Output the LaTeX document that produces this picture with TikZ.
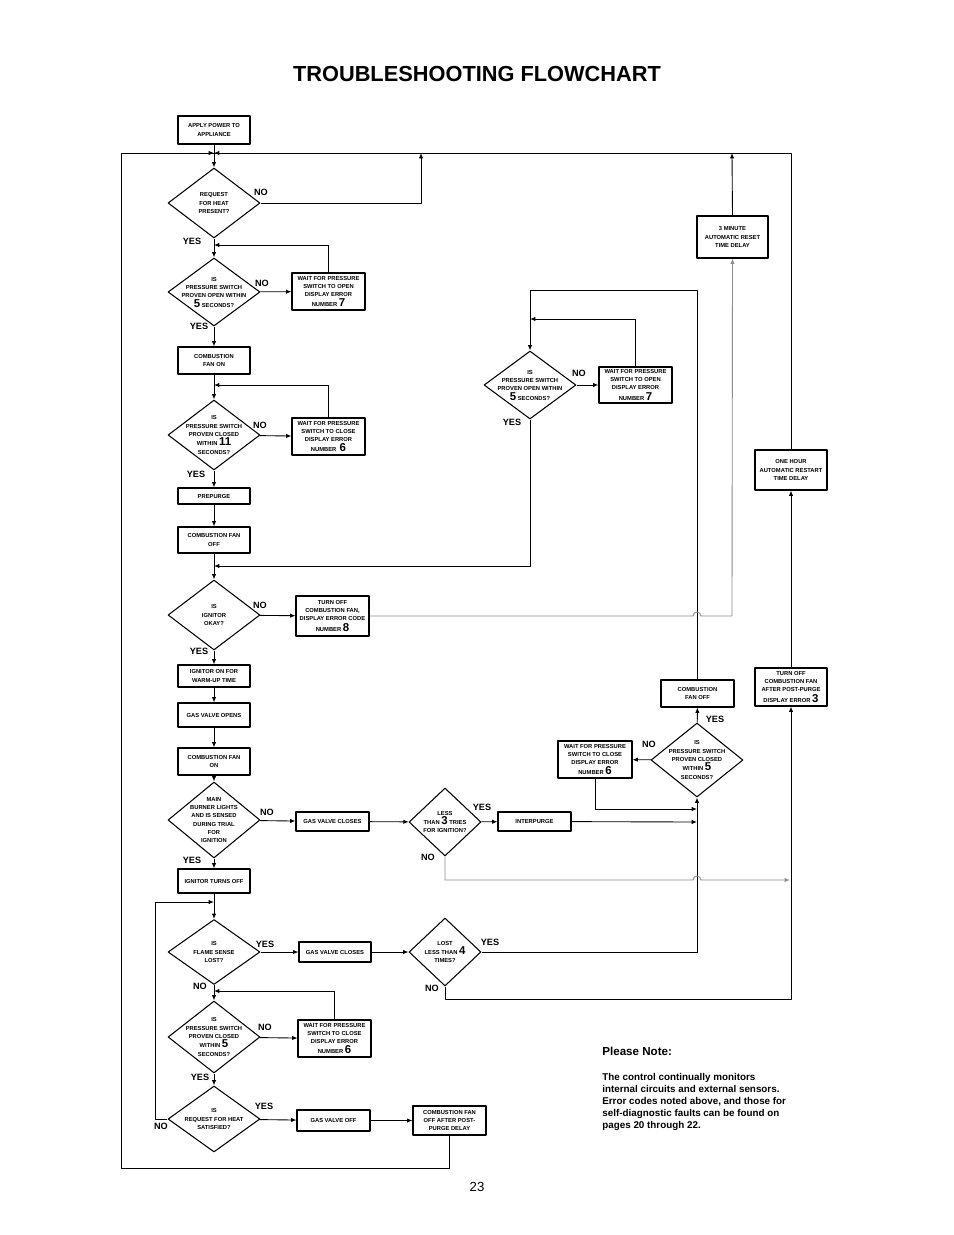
\documentclass[tikz,border=0pt]{standalone}
\usepackage{fontspec}
\setmainfont{Liberation Sans}
\usetikzlibrary{shapes.geometric,arrows.meta}
\newcommand{\bignum}[1]{\smash{\fontsize{6.5}{4.6}\selectfont #1}}
\tikzset{
  box/.style={draw,line width=0.6pt,align=center,inner sep=0pt,font=\fontsize{3.3}{4.6}\selectfont\bfseries},
  dia/.style={draw,diamond,shape aspect=1.3,line width=0.6pt,align=center,inner sep=-3pt,minimum width=1.84cm,minimum height=1.4cm,font=\fontsize{3.3}{4.6}\selectfont\bfseries},
  lbl/.style={font=\fontsize{5.2}{6}\selectfont\bfseries,inner sep=0pt},
  flow/.style={line width=0.5pt,->},
  grayflow/.style={line width=0.5pt,->,draw=black!45},
}
\begin{document}
\begin{tikzpicture}[x=0.02cm,y=-0.02cm,line join=round,>={Latex[length=3pt,width=2.4pt]}]
\useasboundingbox (0,0) rectangle (954,1235);
\node[font=\fontsize{12.4}{14}\selectfont\bfseries] (title) at (477,74) {TROUBLESHOOTING FLOWCHART};
\node[font=\fontsize{7.5}{8}\selectfont] (page) at (477,1187) {23};

% main column
\node[box,minimum width=1.44cm,minimum height=0.56cm] (apply) at (214,130) {APPLY POWER TO\\APPLIANCE};
\node[dia] (dHeat) at (214,203) {REQUEST\\FOR HEAT\\PRESENT?};
\node[dia,minimum height=1.36cm] (dOpen) at (214,292) {IS\\PRESSURE SWITCH\\PROVEN OPEN WITHIN\\[1pt]\bignum{5} SECONDS?};
\node[box,minimum width=1.46cm,minimum height=0.74cm] (wOpen) at (328.5,291.5) {WAIT FOR PRESSURE\\SWITCH TO OPEN\\DISPLAY ERROR\\[1.2pt]NUMBER \bignum{7}};
\node[box,minimum width=1.44cm,minimum height=0.54cm] (fanOn) at (214,360.5) {COMBUSTION\\FAN ON};
\node[dia] (dClosed) at (214,435) {IS\\PRESSURE SWITCH\\PROVEN CLOSED\\[1pt]WITHIN \bignum{11}\\SECONDS?};
\node[box,minimum width=1.46cm,minimum height=0.74cm] (wClosed) at (328.5,436.5) {WAIT FOR PRESSURE\\SWITCH TO CLOSE\\DISPLAY ERROR\\[1.2pt]NUMBER\ \ \bignum{6}};
\node[box,minimum width=1.44cm,minimum height=0.32cm] (prepurge) at (214,496) {PREPURGE};
\node[box,minimum width=1.44cm,minimum height=0.52cm] (fanOff) at (214,540) {COMBUSTION FAN\\OFF};
\node[dia] (dIgn) at (214,615) {IS\\IGNITOR\\OKAY?};
\node[box,minimum width=1.46cm,minimum height=0.8cm] (tOff) at (332.5,616) {TURN OFF\\COMBUSTION FAN,\\DISPLAY ERROR CODE\\[1.2pt]NUMBER \bignum{8}};
\node[box,minimum width=1.44cm,minimum height=0.44cm] (ignOn) at (214,676) {IGNITOR ON FOR\\WARM-UP TIME};
\node[box,minimum width=1.44cm,minimum height=0.48cm] (gvOpen) at (214,715) {GAS VALVE OPENS};
\node[box,minimum width=1.44cm,minimum height=0.54cm] (fanOn2) at (214,761.5) {COMBUSTION FAN\\ON};
\node[dia,minimum height=1.52cm] (dBurn) at (214,820) {MAIN\\BURNER LIGHTS\\AND IS SENSED\\DURING TRIAL\\FOR\\IGNITION};
\node[box,minimum width=1.46cm,minimum height=0.38cm] (gvClose) at (332.5,821.5) {GAS VALVE CLOSES};
\node[dia,minimum width=1.44cm,minimum height=1.36cm] (dTries) at (445,822) {LESS\\[1pt]THAN \bignum{3} TRIES\\FOR IGNITION?};
\node[box,minimum width=1.46cm,minimum height=0.38cm] (inter) at (534.5,821.5) {INTERPURGE};
\node[box,minimum width=1.44cm,minimum height=0.48cm] (ignOff) at (214,881) {IGNITOR TURNS OFF};
\node[dia,minimum height=1.3cm] (dFlame) at (214,952) {IS\\FLAME SENSE\\LOST?};
\node[box,minimum width=1.44cm,minimum height=0.4cm] (gvClose2) at (335,952) {GAS VALVE CLOSES};
\node[dia,minimum width=1.44cm,minimum height=1.36cm] (dLost) at (445,952) {LOST\\[1pt]LESS THAN \bignum{4}\\TIMES?};
\node[dia,minimum height=1.44cm] (dClosed2) at (214,1037) {IS\\PRESSURE SWITCH\\PROVEN CLOSED\\[1pt]WITHIN \bignum{5}\\SECONDS?};
\node[box,minimum width=1.46cm,minimum height=0.74cm] (wClosed2) at (334.5,1038.5) {WAIT FOR PRESSURE\\SWITCH TO CLOSE\\DISPLAY ERROR\\[1.2pt]NUMBER \bignum{6}};
\node[dia,minimum height=1.32cm] (dSat) at (214,1119) {IS\\REQUEST FOR HEAT\\SATISFIED?};
\node[box,minimum width=1.46cm,minimum height=0.42cm] (gvOff) at (333.5,1120.5) {GAS VALVE OFF};
\node[box,minimum width=1.46cm,minimum height=0.58cm] (post) at (449.5,1120.5) {COMBUSTION FAN\\OFF AFTER POST-\\PURGE DELAY};

% right side
\node[dia,minimum height=1.36cm] (dOpen2) at (530,385) {IS\\PRESSURE SWITCH\\PROVEN OPEN WITHIN\\[1pt]\bignum{5} SECONDS?};
\node[box,minimum width=1.46cm,minimum height=0.72cm] (wOpen2) at (635.5,385) {WAIT FOR PRESSURE\\SWITCH TO OPEN\\DISPLAY ERROR\\[1.2pt]NUMBER \bignum{7}};
\node[box,minimum width=1.42cm,minimum height=0.84cm] (min3) at (732.5,237) {3 MINUTE\\AUTOMATIC RESET\\TIME DELAY};
\node[box,minimum width=1.44cm,minimum height=0.8cm] (hour) at (791,470) {ONE HOUR\\AUTOMATIC RESTART\\TIME DELAY};
\node[box,minimum width=1.46cm,minimum height=0.54cm] (fanOff2) at (697.5,693.5) {COMBUSTION\\FAN OFF};
\node[box,minimum width=1.44cm,minimum height=0.76cm] (tPost) at (791,687) {TURN OFF\\COMBUSTION FAN\\AFTER POST-PURGE\\[1.2pt]DISPLAY ERROR \bignum{3}};
\node[dia,minimum height=1.48cm] (dClosed3) at (697,760) {IS\\PRESSURE SWITCH\\PROVEN CLOSED\\[1pt]WITHIN \bignum{5}\\SECONDS?};
\node[box,minimum width=1.48cm,minimum height=0.74cm] (wClosed3) at (595,759.5) {WAIT FOR PRESSURE\\SWITCH TO CLOSE\\DISPLAY ERROR\\[1.2pt]NUMBER \bignum{6}};

% frame
\coordinate (top) at (214,153);
\draw[line width=0.5pt] (post.south) |- (121,1168) |- (top);
\draw[line width=0.5pt] (hour.north) |- (top);
\draw[->] (121,153) -- (top);
\draw[->] (222,153) -- (top);
\draw[flow] (apply) -- (dHeat);
\draw[flow] (dHeat.east) -| (421,153);
\draw[flow] (dHeat) -- (dOpen);
\draw[flow] (dOpen) -- (wOpen);
\draw[flow] (wOpen.north) |- (214,245);
\draw[flow] (dOpen) -- (fanOn);
\draw[flow] (fanOn) -- (dClosed);
\draw[flow] (dClosed) -- (wClosed);
\draw[flow] (wClosed.north) |- (214,385);
\draw[flow] (dClosed) -- (prepurge);
\draw[flow] (prepurge) -- (fanOff);
\draw[flow] (fanOff) -- (dIgn);
\draw[flow] (dOpen2.south) |- (214,566);
\draw[flow] (dIgn) -- (tOff);
\draw[flow] (dIgn) -- (ignOn);
\draw[flow] (ignOn) -- (gvOpen);
\draw[flow] (gvOpen) -- (fanOn2);
\draw[flow] (fanOn2) -- (dBurn);
\draw[flow] (dBurn) -- (gvClose);
\draw[flow] (gvClose) -- (dTries);
\draw[flow] (dTries) -- (inter);
\draw[flow] (inter) -- (697,822);
\draw[flow] (dBurn) -- (ignOff);
\draw[flow] (ignOff) -- (dFlame);
\draw[flow] (dFlame) -- (gvClose2);
\draw[flow] (gvClose2) -- (dLost);
\draw[flow] (dLost.east) -| (dClosed3.south);
\draw[flow] (dLost.south) |- (791,999) -- (tPost.south);
\draw[flow] (dFlame) -- (dClosed2);
\draw[flow] (dClosed2) -- (wClosed2);
\draw[flow] (wClosed2.north) |- (214,991);
\draw[flow] (dClosed2) -- (dSat);
\draw[flow] (dSat) -- (gvOff);
\draw[flow] (gvOff) -- (post);
\draw[flow] (dSat.west) -| (155,902) -- (214,902);
\draw[flow] (min3.north) -- (732,153);
\draw[flow] (tPost) -- (hour);
\draw[flow] (dClosed3) -- (fanOff2);
\draw[flow] (dClosed3) -- (wClosed3);
\draw[flow] (wClosed3.south) |- (697,809);
\draw[line width=0.5pt] (fanOff2.north) |- (530,290);
\draw[flow] (530,290) -- (dOpen2);
\draw[flow] (dOpen2) -- (wOpen2);
\draw[flow] (wOpen2.north) |- (530,319);
% gray lines hopping the vertical
\draw[grayflow] (tOff.east) -- (693,616) arc (180:360:4) -- (732,616) -- (min3.south);
\draw[grayflow] (dTries.south) |- (693,880) arc (180:360:4) -- (790,880);

% labels
\node[lbl] (nHeat) at (261,192) {NO};
\node[lbl] (yHeat) at (192,241) {YES};
\node[lbl] (nOpen) at (262,283) {NO};
\node[lbl] (yOpen) at (199,326) {YES};
\node[lbl] (nClosed) at (260,425) {NO};
\node[lbl] (yClosed) at (196,474) {YES};
\node[lbl] (nIgn) at (260,605) {NO};
\node[lbl] (yIgn) at (199,651) {YES};
\node[lbl] (nBurn) at (267,812) {NO};
\node[lbl] (yBurn) at (192,860) {YES};
\node[lbl] (yTries) at (482,807) {YES};
\node[lbl] (nTries) at (428,857) {NO};
\node[lbl] (yFlame) at (265,944) {YES};
\node[lbl] (nFlame) at (200,986) {NO};
\node[lbl] (yLost) at (490,942) {YES};
\node[lbl] (nLost) at (432,988) {NO};
\node[lbl] (nClosed2) at (265,1027) {NO};
\node[lbl] (yClosed2) at (200,1077) {YES};
\node[lbl] (ySat) at (264,1106) {YES};
\node[lbl] (nSat) at (161,1126) {NO};
\node[lbl] (nOpen2) at (579,373) {NO};
\node[lbl] (yOpen2) at (512,422) {YES};
\node[lbl] (nClosed3) at (649,744) {NO};
\node[lbl] (yClosed3) at (715,719) {YES};

% note
\node[anchor=north west,inner sep=0pt,font=\fontsize{6.6}{8}\selectfont\bfseries] (noteHead) at (602,1047) {Please Note:};
\node[anchor=north west,inner sep=0pt,align=left,font=\fontsize{5.6}{6.8}\selectfont\bfseries] (noteText) at (602,1073) {The control continually monitors\\internal circuits and external sensors.\\Error codes noted above, and those for\\self-diagnostic faults can be found on\\pages 20 through 22.};
\end{tikzpicture}
\end{document}
